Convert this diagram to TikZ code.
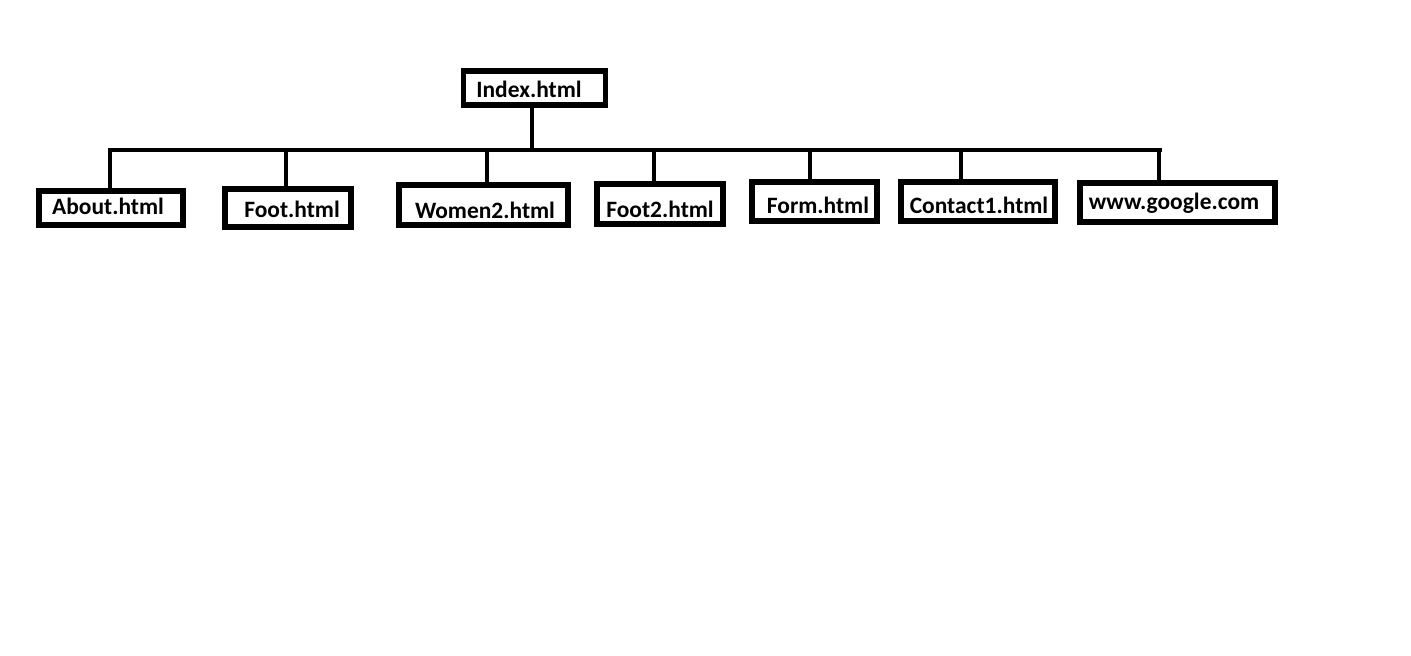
\documentclass[tikz,border=0pt]{standalone}
\usepackage{fontspec}
\setmainfont{Carlito}
\tikzset{
  px/.style={x=0.75pt,y=-0.75pt},
  box/.style={draw=black,line width=3.8pt,inner sep=0pt,fill=white},
  lbl/.style={font=\fontsize{17.6}{20}\selectfont\bfseries,inner sep=0pt,text=black},
  wire/.style={line width=3.6pt,draw=black}
}
\begin{document}
\begin{tikzpicture}[px]
\useasboundingbox (0,0) rectangle (1411,656);
% boxes
\node[box,minimum width=107pt,minimum height=25.5pt] (index) at (534.5,88) {};
\node[box,minimum width=108pt,minimum height=25.5pt] (about) at (111,208) {};
\node[box,minimum width=94.5pt,minimum height=28.5pt] (foot) at (288,208) {};
\node[box,minimum width=126.75pt,minimum height=30pt] (women) at (483.5,205) {};
\node[box,minimum width=94.5pt,minimum height=30pt] (foottwo) at (660,204) {};
\node[box,minimum width=93.75pt,minimum height=29.25pt] (form) at (814.5,201.5) {};
\node[box,minimum width=115.5pt,minimum height=29.25pt] (contact) at (978,201.5) {};
\node[box,minimum width=146.25pt,minimum height=29.25pt] (google) at (1177.5,202.5) {};
% labels
\node[lbl] at (529,89) {Index.html};
\node[lbl] at (108,206) {About.html};
\node[lbl] at (292,209) {Foot.html};
\node[lbl] at (485,210) {Women2.html};
\node[lbl] at (660,209) {Foot2.html};
\node[lbl] at (818,205) {Form.html};
\node[lbl] at (979,205) {Contact1.html};
\node[lbl] at (1174,203) {www.google.com};
% connectors
\coordinate (barL) at (108,150);
\coordinate (barR) at (1162,150);
\draw[wire] (barL) -- (barR);
\draw[wire] (index.south -| 532,0) -- (532,150);
\draw[wire] (110,150) -- (110,0 |- about.north);
\draw[wire] (286,150) -- (286,0 |- foot.north);
\draw[wire] (487,150) -- (487,0 |- women.north);
\draw[wire] (654,150) -- (654,0 |- foottwo.north);
\draw[wire] (810,150) -- (810,0 |- form.north);
\draw[wire] (961,150) -- (961,0 |- contact.north);
\draw[wire] (1159,150) -- (1159,0 |- google.north);
\end{tikzpicture}
\end{document}
